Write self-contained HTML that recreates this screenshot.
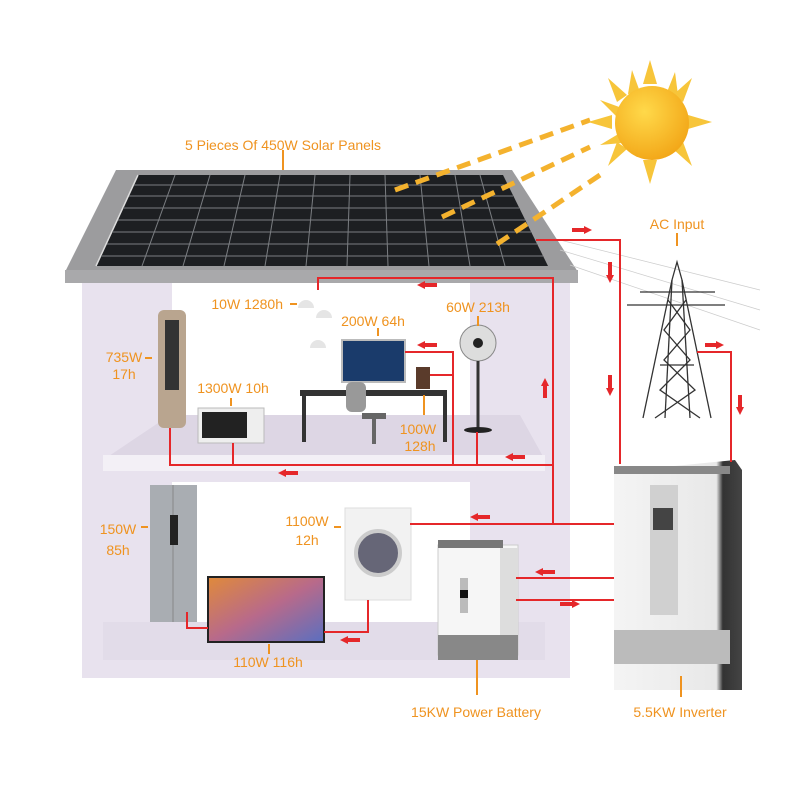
<!DOCTYPE html>
<html><head><meta charset="utf-8"><style>
html,body{margin:0;padding:0;background:#fff;}
svg{display:block;}
text{font-family:"Liberation Sans",sans-serif;fill:#ef9320;font-size:14px;}
</style></head><body>
<svg width="800" height="800" viewBox="0 0 800 800" xmlns="http://www.w3.org/2000/svg">
<defs>
<marker id="ah" markerWidth="10" markerHeight="10" refX="2" refY="5" orient="auto" markerUnits="userSpaceOnUse"><path d="M0,1 L8,5 L0,9 z" fill="#e5272a"/></marker>
<radialGradient id="sun" cx="40%" cy="35%" r="70%"><stop offset="0" stop-color="#ffd94a"/><stop offset="1" stop-color="#f2a516"/></radialGradient>
<linearGradient id="inv" x1="0" x2="1"><stop offset="0" stop-color="#f4f4f4"/><stop offset="0.8" stop-color="#e8e8e8"/><stop offset="0.85" stop-color="#333"/><stop offset="1" stop-color="#444"/></linearGradient>
<linearGradient id="tv" x1="0" y1="0" x2="1" y2="1"><stop offset="0" stop-color="#e08a3a"/><stop offset="0.5" stop-color="#b86a8a"/><stop offset="1" stop-color="#5a6fc0"/></linearGradient>
</defs>
<!-- house -->
<rect x="82" y="282" width="488" height="396" fill="#e8e2ee"/>
<rect x="172" y="282" width="298" height="180" fill="#fff"/>
<polygon points="103,460 545,460 520,415 170,415" fill="#ddd6e4"/>
<rect x="103" y="455" width="442" height="16" fill="#f3f0f6"/>
<rect x="172" y="482" width="298" height="140" fill="#fff"/>
<polygon points="103,660 545,660 520,625 170,625" fill="#ddd6e4"/>
<rect x="103" y="622" width="442" height="38" fill="#e2dce9"/>
<!-- roof -->
<polygon points="65,272 578,272 512,170 116,170" fill="#9c9c9e"/>
<rect x="65" y="270" width="513" height="13" fill="#a9a9ab"/>
<polygon points="96,266 548,266 503,175 138,175" fill="#1d1f22"/>
<line x1="138" y1="175" x2="96" y2="266" stroke="#ddd" stroke-width="1.5"/>
<g stroke="#7b7e82" stroke-width="1">
<line x1="134" y1="185" x2="508" y2="185"/><line x1="129" y1="196" x2="513" y2="196"/><line x1="123" y1="208" x2="519" y2="208"/><line x1="118" y1="220" x2="525" y2="220"/><line x1="112" y1="232" x2="531" y2="232"/><line x1="107" y1="244" x2="537" y2="244"/><line x1="101" y1="256" x2="543" y2="256"/>
<line x1="175" y1="175" x2="142" y2="266"/><line x1="210" y1="175" x2="183" y2="266"/><line x1="245" y1="175" x2="224" y2="266"/><line x1="280" y1="175" x2="265" y2="266"/><line x1="315" y1="175" x2="306" y2="266"/><line x1="350" y1="175" x2="347" y2="266"/><line x1="385" y1="175" x2="388" y2="266"/><line x1="420" y1="175" x2="429" y2="266"/><line x1="455" y1="175" x2="470" y2="266"/><line x1="480" y1="175" x2="505" y2="266"/>
</g>
<!-- sun rays -->
<g stroke="#f4b22e" stroke-width="5" stroke-dasharray="14,8">
<line x1="395" y1="190" x2="590" y2="120"/><line x1="442" y1="217" x2="590" y2="147"/><line x1="497" y1="244" x2="600" y2="175"/>
</g>
<g fill="#f7c53a">
<polygon points="650,60 657,84 643,84"/><polygon points="650,184 657,160 643,160"/><polygon points="588,122 612,115 612,129"/><polygon points="712,122 688,115 688,129"/>
<polygon points="608,78 627,95 617,102"/><polygon points="692,78 673,95 683,102"/><polygon points="608,166 627,149 617,142"/><polygon points="692,166 673,149 683,142"/>
<polygon points="632,70 640,92 628,94"/><polygon points="675,72 667,92 678,95"/><polygon points="600,100 622,108 618,118"/><polygon points="600,145 620,133 622,143"/>
</g>
<circle cx="652" cy="123" r="37" fill="url(#sun)"/>
<!-- tower -->
<g stroke="#ccc" stroke-width="0.7"><line x1="560" y1="240" x2="760" y2="290"/><line x1="560" y1="250" x2="760" y2="310"/><line x1="570" y1="265" x2="760" y2="330"/></g>
<g stroke="#333" stroke-width="1.3" fill="none">
<polyline points="643,418 672,280 677,262 682,280 711,418"/>
<line x1="672" y1="280" x2="665" y2="418"/><line x1="682" y1="280" x2="690" y2="418"/>
<line x1="640" y1="292" x2="715" y2="292"/><line x1="627" y1="305" x2="725" y2="305"/>
<polyline points="668,300 690,330 664,360 695,390 655,418"/><polyline points="686,300 664,330 690,360 660,390 700,418"/>
<line x1="660" y1="365" x2="694" y2="365"/>
</g>
<!-- inverter -->
<polygon points="614,472 735,460 742,470 742,690 728,690 614,690" fill="url(#inv)"/>
<rect x="614" y="466" width="116" height="8" fill="#888"/>
<rect x="650" y="485" width="28" height="130" fill="#d0d0d0"/>
<rect x="653" y="508" width="20" height="22" fill="#444"/>
<rect x="614" y="630" width="116" height="34" fill="#bbb"/>
<!-- battery -->
<rect x="438" y="545" width="80" height="110" fill="#f6f6f6" stroke="#ccc"/>
<rect x="438" y="540" width="65" height="8" fill="#777"/>
<rect x="500" y="548" width="18" height="110" fill="#ddd"/>
<rect x="460" y="578" width="8" height="35" fill="#bbb"/><rect x="460" y="590" width="8" height="8" fill="#111"/>
<rect x="438" y="635" width="80" height="25" fill="#888"/>
<!-- appliances -->
<rect x="158" y="310" width="28" height="118" rx="6" fill="#b9a58f"/><rect x="165" y="320" width="14" height="70" fill="#333"/>
<rect x="198" y="408" width="66" height="35" fill="#eee" stroke="#bbb"/><rect x="202" y="412" width="45" height="26" fill="#222"/>
<rect x="300" y="390" width="147" height="6" fill="#333"/><rect x="302" y="396" width="4" height="46" fill="#333"/><rect x="443" y="396" width="4" height="46" fill="#333"/>
<rect x="342" y="340" width="63" height="42" fill="#1a3b6b" stroke="#bbb" stroke-width="2"/>
<rect x="346" y="382" width="20" height="30" rx="6" fill="#999"/><rect x="362" y="413" width="24" height="6" fill="#666"/><rect x="372" y="418" width="4" height="26" fill="#666"/>
<rect x="416" y="367" width="14" height="22" fill="#5a3b2b"/>
<circle cx="478" cy="343" r="18" fill="#ddd" stroke="#888"/><circle cx="478" cy="343" r="5" fill="#222"/><line x1="478" y1="361" x2="478" y2="428" stroke="#333" stroke-width="3"/><ellipse cx="478" cy="430" rx="14" ry="3" fill="#222"/>
<g fill="#e5e5e5"><path d="M298,308 a8,8 0 0 1 16,0z"/><path d="M316,318 a8,8 0 0 1 16,0z"/><path d="M310,348 a8,8 0 0 1 16,0z"/></g>
<rect x="150" y="485" width="47" height="137" fill="#a9adb2"/><line x1="173" y1="485" x2="173" y2="622" stroke="#888"/><rect x="170" y="515" width="8" height="30" fill="#222"/>
<rect x="208" y="577" width="116" height="65" fill="url(#tv)" stroke="#222" stroke-width="2"/>
<rect x="345" y="508" width="66" height="92" fill="#f2f2f2" stroke="#ddd"/><circle cx="378" cy="553" r="22" fill="#667" stroke="#ccc" stroke-width="4"/>
<!-- red wires -->
<g stroke="#e5272a" stroke-width="2" fill="none">
<polyline points="536,240 620,240 620,464"/>
<polyline points="697,352 731,352 731,462"/>
<polyline points="318,290 318,278 553,278 553,524"/>
<polyline points="170,428 170,465 553,465"/>
<line x1="233" y1="443" x2="233" y2="465"/>
<polyline points="405,352 453,352 453,465"/><line x1="430" y1="375" x2="453" y2="375"/>
<line x1="477" y1="432" x2="477" y2="465"/>
<line x1="410" y1="524" x2="614" y2="524"/>
<polyline points="368,600 368,632 324,632"/>
<polyline points="187,612 187,628 208,628"/>
<line x1="516" y1="578" x2="614" y2="578"/><line x1="516" y1="600" x2="614" y2="600"/>
</g>
<g stroke="#e5272a" stroke-width="4" marker-end="url(#ah)">
<line x1="572" y1="230" x2="586" y2="230"/><line x1="610" y1="262" x2="610" y2="277"/><line x1="610" y1="375" x2="610" y2="390"/>
<line x1="705" y1="345" x2="718" y2="345"/><line x1="740" y1="395" x2="740" y2="409"/>
<line x1="437" y1="285" x2="423" y2="285"/><line x1="545" y1="398" x2="545" y2="384"/>
<line x1="437" y1="345" x2="423" y2="345"/><line x1="525" y1="457" x2="511" y2="457"/><line x1="298" y1="473" x2="284" y2="473"/>
<line x1="490" y1="517" x2="476" y2="517"/><line x1="555" y1="572" x2="541" y2="572"/><line x1="560" y1="604" x2="574" y2="604"/>
<line x1="360" y1="640" x2="346" y2="640"/>
</g>
<!-- orange ticks -->
<g stroke="#ef9320" stroke-width="2">
<line x1="283" y1="150" x2="283" y2="170"/><line x1="677" y1="233" x2="677" y2="246"/>
<line x1="290" y1="304" x2="297" y2="304"/><line x1="378" y1="328" x2="378" y2="336"/><line x1="478" y1="316" x2="478" y2="326"/>
<line x1="145" y1="358" x2="152" y2="358"/><line x1="231" y1="398" x2="231" y2="406"/><line x1="424" y1="395" x2="424" y2="415"/>
<line x1="141" y1="527" x2="148" y2="527"/><line x1="334" y1="527" x2="341" y2="527"/><line x1="269" y1="644" x2="269" y2="654"/>
<line x1="477" y1="660" x2="477" y2="695"/><line x1="681" y1="676" x2="681" y2="697"/>
</g>
<!-- labels -->
<text x="283" y="150" text-anchor="middle" font-size="15">5 Pieces Of 450W Solar Panels</text>
<text x="677" y="229" text-anchor="middle" font-size="15">AC Input</text>
<text x="283" y="309" text-anchor="end">10W 1280h</text>
<text x="373" y="326" text-anchor="middle">200W 64h</text>
<text x="478" y="312" text-anchor="middle">60W 213h</text>
<text x="124" y="362" text-anchor="middle">735W</text><text x="124" y="379" text-anchor="middle">17h</text>
<text x="233" y="393" text-anchor="middle">1300W 10h</text>
<text x="418" y="434" text-anchor="middle">100W</text><text x="420" y="451" text-anchor="middle">128h</text>
<text x="118" y="534" text-anchor="middle">150W</text><text x="118" y="555" text-anchor="middle">85h</text>
<text x="307" y="526" text-anchor="middle">1100W</text><text x="307" y="545" text-anchor="middle">12h</text>
<text x="268" y="667" text-anchor="middle">110W 116h</text>
<text x="476" y="717" text-anchor="middle" font-size="15">15KW Power Battery</text>
<text x="680" y="717" text-anchor="middle" font-size="15">5.5KW Inverter</text>
</svg>
</body></html>
